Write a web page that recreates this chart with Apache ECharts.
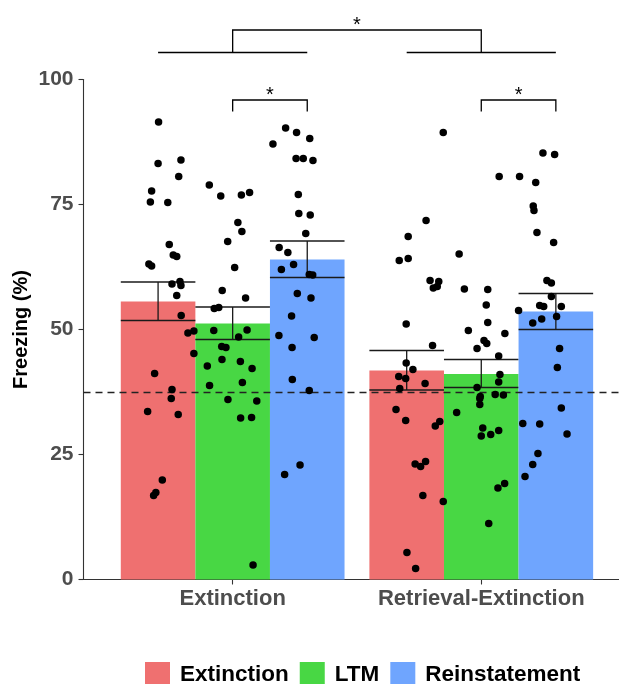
<!DOCTYPE html>
<html><head><meta charset="utf-8">
<script src="https://cdn.jsdelivr.net/npm/echarts@6/dist/echarts.min.js"></script>
<style>html,body{margin:0;padding:0;background:#fff}#c{width:619px;height:684px}</style>
</head><body><div id="c"></div>
<script>
// ---- data ----
const groups = ['Extinction', 'Retrieval-Extinction'];
const conditions = ['Extinction', 'LTM', 'Reinstatement'];
const yTicks = [0, 25, 50, 75, 100];

// mean and SEM bounds per condition, one value per group
const extinctionMean = [55.6, 41.8];
const extinctionLow  = [51.8, 37.9];
const extinctionHigh = [59.5, 45.8];
const ltmMean = [51.2, 41.1];
const ltmLow  = [48.0, 38.4];
const ltmHigh = [54.5, 44.0];
const reinMean = [64.0, 53.6];
const reinLow  = [60.4, 50.0];
const reinHigh = [67.7, 57.2];

const chanceLevel = 37.5;

// individual animals: [x position on group axis (jittered), freezing %]
const extExtinctionPts = [[0.702,91.5],[0.700,83.2],[0.792,83.9],[0.783,80.6],[0.674,77.7],[0.669,75.5],[0.739,75.4],[0.745,67.0],[0.761,64.9],[0.775,64.6],[0.663,63.1],[0.674,62.7],[0.756,59.1],[0.788,59.6],[0.792,58.8],[0.775,56.8],[0.793,52.8],[0.820,49.3],[0.844,49.7],[0.844,45.2],[0.686,41.2],[0.756,38.0],[0.753,36.2],[0.658,33.6],[0.781,33.0],[0.717,19.9],[0.691,17.4],[0.682,16.8]];
const extLtmPts = [[0.906,78.9],[0.952,76.7],[1.035,76.9],[1.068,77.4],[1.021,71.4],[1.037,69.6],[0.980,67.6],[1.008,62.4],[0.958,57.8],[1.052,56.3],[0.926,54.2],[0.944,54.4],[0.924,49.8],[1.058,49.9],[1.024,48.5],[0.956,46.6],[0.973,46.4],[0.957,44.0],[0.898,42.7],[1.031,43.6],[1.078,42.2],[0.907,38.8],[1.039,39.4],[0.981,36.0],[1.097,35.7],[1.032,32.3],[1.076,32.4],[1.082,2.9]];
const extReinPts = [[1.162,87.1],[1.213,90.3],[1.257,89.4],[1.310,88.2],[1.255,84.2],[1.284,84.2],[1.323,83.8],[1.264,77.0],[1.266,73.2],[1.312,72.9],[1.294,69.2],[1.187,66.4],[1.222,65.4],[1.196,62.0],[1.245,63.0],[1.308,61.0],[1.322,60.9],[1.260,57.2],[1.315,56.3],[1.237,52.7],[1.186,48.8],[1.328,48.4],[1.239,46.4],[1.240,40.0],[1.308,37.8],[1.271,22.9],[1.209,21.0]];
const retExtinctionPts = [[1.778,71.8],[1.706,68.6],[1.670,63.8],[1.706,64.2],[1.794,59.8],[1.829,59.6],[1.807,58.3],[1.823,58.6],[1.698,51.1],[1.804,46.8],[1.698,43.3],[1.725,42.0],[1.668,40.6],[1.696,40.2],[1.774,39.2],[1.672,38.2],[1.657,34.0],[1.696,31.8],[1.815,30.7],[1.833,31.6],[1.734,23.1],[1.756,22.6],[1.776,23.6],[1.765,16.8],[1.847,15.6],[1.701,5.4],[1.736,2.2],[1.847,89.4]];
const retLtmPts = [[2.072,80.6],[1.911,65.1],[1.932,58.1],[2.026,58.0],[2.020,54.9],[2.026,51.4],[1.948,49.8],[2.095,49.2],[2.011,47.8],[2.022,47.2],[1.983,46.2],[2.070,44.7],[2.075,41.0],[2.070,39.5],[1.983,38.4],[1.996,36.6],[1.994,36.2],[2.056,37.0],[2.089,36.9],[1.994,35.0],[1.901,33.4],[2.006,30.3],[2.000,28.7],[2.038,29.0],[2.070,29.8],[2.067,18.3],[2.094,19.2],[2.030,11.2]];
const retReinPts = [[2.248,85.3],[2.295,85.0],[2.154,80.6],[2.219,79.4],[2.209,74.7],[2.212,73.8],[2.224,69.4],[2.291,67.4],[2.264,59.8],[2.282,59.3],[2.282,56.6],[2.235,54.8],[2.251,54.6],[2.322,54.6],[2.150,53.8],[2.207,51.3],[2.243,52.1],[2.303,52.6],[2.315,46.2],[2.306,42.4],[2.322,34.3],[2.167,31.2],[2.235,31.1],[2.345,29.1],[2.228,25.2],[2.207,23.0],[2.176,20.6]];

// significance annotations (x in group units, y in % units)
const sigPairs = [[1.0, 1.3], [2.0, 2.3]];   // within-group: LTM vs Reinstatement
const sigGroupSpans = [[0.7, 1.3], [1.7, 2.3]]; // between groups

// ---- styling ----
const colors = ['#EF7070', '#48D744', '#6FA5FE'];
const dodge = [-0.3, 0, 0.3];
const BAR_W = 0.3;
const FONT = '"Liberation Sans", Arial, Helvetica, sans-serif';

const means = [extinctionMean, ltmMean, reinMean];
const lows = [extinctionLow, ltmLow, reinLow];
const highs = [extinctionHigh, ltmHigh, reinHigh];
const points = [
  extExtinctionPts.concat(retExtinctionPts),
  extLtmPts.concat(retLtmPts),
  extReinPts.concat(retReinPts)
];

function barRender(ci) {
  return function (params, api) {
    const x = api.value(0), m = api.value(1), lo = api.value(2), hi = api.value(3);
    const a = api.coord([x - BAR_W / 2, m]);
    const b = api.coord([x + BAR_W / 2, 0]);
    const c = api.coord([x, 0])[0];
    const yLo = api.coord([x, lo])[1], yHi = api.coord([x, hi])[1];
    const ls = { stroke: '#1a1a1a', lineWidth: 1.3 };
    return {
      type: 'group',
      children: [
        { type: 'rect', shape: { x: a[0], y: a[1], width: b[0] - a[0], height: b[1] - a[1] }, style: { fill: colors[ci] } },
        { type: 'line', shape: { x1: c, y1: yHi, x2: c, y2: yLo }, style: ls },
        { type: 'line', shape: { x1: a[0], y1: yHi, x2: b[0], y2: yHi }, style: ls },
        { type: 'line', shape: { x1: a[0], y1: yLo, x2: b[0], y2: yLo }, style: ls }
      ]
    };
  };
}

const series = [];
conditions.forEach(function (name, ci) {
  const data = groups.map(function (g, gi) {
    return [gi + 1 + dodge[ci], means[ci][gi], lows[ci][gi], highs[ci][gi]];
  });
  const s = {
    name: name,
    type: 'custom',
    renderItem: barRender(ci),
    data: data,
    itemStyle: { color: colors[ci] },
    z: 2,
    silent: true
  };
  if (ci === 2) {
    s.markLine = {
      silent: true, symbol: 'none',
      label: { show: false },
      lineStyle: { type: [7, 5], color: '#222', width: 1.3 },
      data: [{ yAxis: chanceLevel }]
    };
  }
  series.push(s);
});
conditions.forEach(function (name, ci) {
  series.push({
    name: name + ' animals',
    type: 'scatter',
    data: points[ci],
    symbolSize: 7.5,
    itemStyle: { color: '#000', opacity: 1 },
    z: 5,
    silent: true
  });
});

// significance brackets
series.push({
  name: 'sig',
  type: 'custom',
  clip: false,
  silent: true,
  z: 6,
  data: [[0]],
  renderItem: function (params, api) {
    const ls = { stroke: '#000', lineWidth: 1.3 };
    const kids = [];
    const starStyle = function (x, y) {
      return { type: 'text', style: { text: '*', x: x, y: y, align: 'center', verticalAlign: 'middle', fontSize: 20, fontFamily: FONT, fill: '#000' } };
    };
    sigPairs.forEach(function (p) {
      const l = api.coord([p[0], 95.9]), r = api.coord([p[1], 95.9]);
      const lb = api.coord([p[0], 93.6]);
      kids.push({ type: 'polyline', shape: { points: [[l[0], lb[1]], l, r, [r[0], lb[1]]] }, style: Object.assign({ fill: 'none' }, ls) });
      const s = api.coord([(p[0] + p[1]) / 2, 96.8]);
      kids.push(starStyle(s[0], s[1]));
    });
    sigGroupSpans.forEach(function (p) {
      const l = api.coord([p[0], 105.4]), r = api.coord([p[1], 105.4]);
      kids.push({ type: 'line', shape: { x1: l[0], y1: l[1], x2: r[0], y2: r[1] }, style: ls });
    });
    const a = api.coord([1.0, 105.4]), b = api.coord([1.0, 109.9]);
    const c = api.coord([2.0, 109.9]), d = api.coord([2.0, 105.4]);
    kids.push({ type: 'polyline', shape: { points: [a, b, c, d] }, style: Object.assign({ fill: 'none' }, ls) });
    const st = api.coord([1.5, 110.9]);
    kids.push(starStyle(st[0], st[1]));
    return { type: 'group', children: kids };
  }
});

const chart = echarts.init(document.getElementById('c'), null, { renderer: 'canvas' });
chart.setOption({
  animation: false,
  backgroundColor: '#fff',
  grid: { left: 83.5, top: 79.5, height: 500, right: 0, containLabel: false },
  xAxis: {
    type: 'value', min: 0.4, max: 2.554,
    splitLine: { show: false },
    axisLine: { show: true, onZero: false, lineStyle: { color: '#333', width: 1.1 } },
    axisTick: { show: true, customValues: [1, 2], length: 5, lineStyle: { color: '#333', width: 1.1 } },
    axisLabel: {
      customValues: [1, 2], margin: 8,
      formatter: function (v) { return groups[Math.round(v) - 1]; },
      fontFamily: FONT, fontWeight: 'bold', fontSize: 22, color: '#4D4D4D'
    }
  },
  yAxis: {
    type: 'value', min: yTicks[0], max: yTicks[yTicks.length - 1], interval: 25,
    name: 'Freezing (%)', nameLocation: 'middle', nameGap: 52, nameMoveOverlap: false,
    nameTextStyle: { fontFamily: FONT, fontWeight: 'bold', fontSize: 20, color: '#000' },
    splitLine: { show: false },
    axisLine: { show: true, lineStyle: { color: '#333', width: 1.1 } },
    axisTick: { show: true, length: 5, lineStyle: { color: '#333', width: 1.1 } },
    axisLabel: { margin: 10, fontFamily: FONT, fontWeight: 'bold', fontSize: 21, color: '#4D4D4D' }
  },
  legend: {
    data: conditions,
    left: 145, top: 662, padding: 0,
    itemWidth: 25, itemHeight: 25, itemGap: 11,
    icon: 'rect', selectedMode: false,
    textStyle: { fontFamily: FONT, fontWeight: 'bold', fontSize: 22.5, color: '#000', padding: [0, 0, 0, 5] }
  },
  series: series
});
</script></body></html>
